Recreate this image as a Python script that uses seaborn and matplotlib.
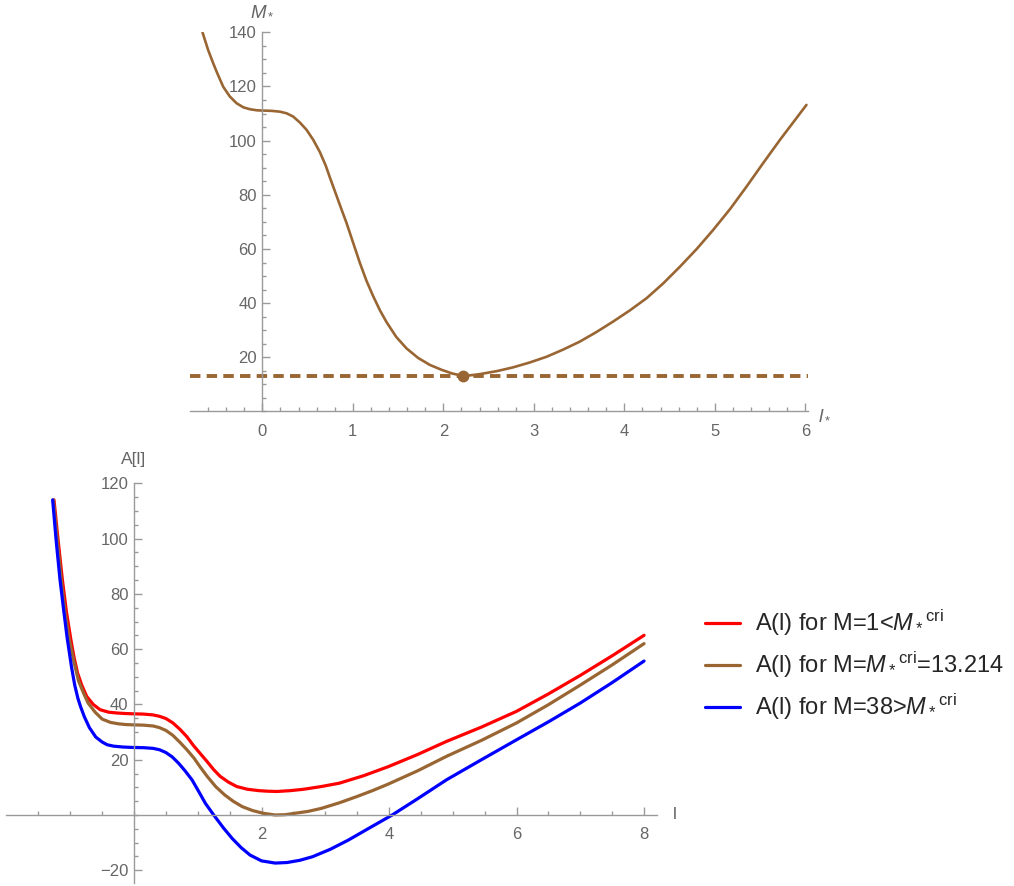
import numpy as np
import pandas as pd
import matplotlib
matplotlib.use("Agg")
import matplotlib.pyplot as plt
from matplotlib.ticker import FixedLocator, MultipleLocator
import seaborn as sns

# ---- critical mass curve M_*(l_*) ----
lstar = [-0.661, -0.60, -0.544, -0.50, -0.433, -0.36, -0.285, -0.21, -0.138,
         -0.06, 0.009, 0.10, 0.193, 0.267, 0.340, 0.414, 0.488, 0.562, 0.635,
         0.70, 0.746, 0.82, 0.88, 0.930, 1.00, 1.077, 1.15, 1.224, 1.30, 1.372,
         1.48, 1.593, 1.72, 1.851, 1.98, 2.10, 2.214, 2.31, 2.403, 2.59, 2.771,
         2.955, 3.140, 3.32, 3.508, 3.69, 3.876, 4.06, 4.245, 4.43, 4.613,
         4.80, 4.981, 5.17, 5.350, 5.53, 5.718, 5.87, 6.013]
mstar = [139.9, 133.5, 128.6, 125.0, 119.9, 116.3, 113.8, 112.3, 111.6,
         111.2, 111.1, 111.0, 110.7, 110.1, 108.9, 106.7, 104.0, 100.3, 95.8,
         90.8, 86.4, 79.6, 74.1, 69.6, 62.6, 54.9, 48.3, 42.6, 37.3, 33.0,
         27.5, 23.3, 19.8, 17.2, 15.4, 14.0, 13.214, 13.4, 13.8, 14.9, 16.3,
         18.1, 20.2, 22.8, 25.8, 29.3, 33.2, 37.3, 41.8, 47.3, 53.4,
         60.0, 67.0, 74.8, 83.0, 91.5, 100.2, 106.9, 113.2]
l_cri = 2.214
m_cri = 13.214

# ---- A(l) for three masses ----
l_red = [-1.255, -1.20, -1.124, -1.06, -0.99, -0.94, -0.886, -0.82, -0.742,
         -0.64, -0.533, -0.40, -0.271, -0.13, 0.0, 0.15, 0.30, 0.40, 0.50,
         0.61, 0.72, 0.83, 0.93, 1.04, 1.14, 1.25, 1.35, 1.48, 1.61, 1.78,
         1.96, 2.10, 2.24, 2.45, 2.66, 2.94, 3.22, 3.60, 3.99, 4.45, 4.90,
         5.45, 6.0, 6.5, 7.0, 7.5, 8.0]
a_red = [114.0, 101.5, 85.2, 73.5, 63.4, 57.0, 51.4, 47.0, 42.9,
         40.0, 38.1, 37.2, 36.9, 36.7, 36.6, 36.5, 36.2, 35.7, 34.9,
         33.3, 31.0, 28.3, 25.2, 22.2, 19.5, 16.4, 14.0, 11.9, 10.3, 9.3,
         8.8, 8.6, 8.5, 8.8, 9.3, 10.3, 11.5, 14.2, 17.5, 21.9, 26.6,
         31.8, 37.5, 43.8, 50.5, 57.6, 65.0]

l_brown = [-1.265, -1.21, -1.142, -1.08, -1.015, -0.94, -0.87, -0.79, -0.72,
           -0.61, -0.50, -0.37, -0.25, -0.12, 0.0, 0.15, 0.30, 0.40, 0.50,
           0.61, 0.72, 0.83, 0.94, 1.04, 1.15, 1.28, 1.42, 1.56, 1.70, 1.86,
           2.03, 2.214, 2.37, 2.52, 2.73, 2.94, 3.22, 3.50, 3.75, 3.99, 4.45,
           4.90, 5.45, 6.0, 6.5, 7.0, 7.5, 8.0]
a_brown = [114.0, 101.0, 85.2, 73.0, 63.4, 55.2, 48.5, 44.0, 40.5,
           37.2, 34.7, 33.5, 33.0, 32.7, 32.6, 32.5, 32.2, 31.6, 30.6,
           28.8, 26.3, 23.6, 20.6, 17.3, 13.9, 10.3, 7.3, 4.9, 3.0, 1.6,
           0.6, 0.0, 0.1, 0.6, 1.3, 2.4, 4.4, 6.7, 8.9, 11.2, 16.0,
           21.2, 27.0, 33.3, 39.9, 47.0, 54.3, 62.0]

l_blue = [-1.276, -1.22, -1.161, -1.10, -1.05, -0.98, -0.93, -0.88, -0.84,
          -0.78, -0.70, -0.60, -0.50, -0.42, -0.32, -0.18, 0.0, 0.15, 0.30,
          0.40, 0.50, 0.60, 0.70, 0.80, 0.91, 1.01, 1.12, 1.25, 1.40, 1.54,
          1.68, 1.82, 2.0, 2.214, 2.40, 2.60, 2.80, 3.08, 3.36, 3.70, 4.05,
          4.45, 4.90, 5.45, 6.0, 6.5, 7.0, 7.5, 8.0]
a_blue = [114.0, 99.0, 85.2, 73.5, 64.3, 53.5, 47.0, 42.2, 39.3,
          35.6, 31.6, 28.2, 26.4, 25.4, 24.9, 24.6, 24.4, 24.35, 24.1,
          23.6, 22.6, 21.0, 18.7, 16.0, 12.7, 8.7, 4.2, 0.0, -4.6, -8.5,
          -11.8, -14.5, -16.6, -17.4, -17.2, -16.4, -15.1, -12.4, -9.1, -4.6, 0.0,
          5.9, 12.7, 20.0, 27.2, 33.7, 40.5, 47.9, 55.7]

series_labels = [r"A(l) for M=1<${M_*}^{\rm cri}$",
                 r"A(l) for M=${M_*}^{\rm cri}$=13.214",
                 r"A(l) for M=38>${M_*}^{\rm cri}$"]

BROWN = "#996633"
AXIS_C = "#9a9a9a"
LABEL_C = "#666666"

sns.set_style("white")
plt.rcParams["font.family"] = ["Liberation Sans", "DejaVu Sans"]
plt.rcParams["mathtext.fontset"] = "custom"
plt.rcParams["mathtext.rm"] = "Liberation Sans"
plt.rcParams["mathtext.it"] = "Liberation Sans:italic"
plt.rcParams["mathtext.bf"] = "Liberation Sans:bold"
plt.rcParams["lines.scale_dashes"] = False

W, H = 1014, 886
fig = plt.figure(figsize=(W / 100, H / 100), dpi=100)


def frac_axes(x0, x1, y_top, y_bot):
    return fig.add_axes([x0 / W, 1 - y_bot / H, (x1 - x0) / W, (y_bot - y_top) / H])


def style_axes(ax):
    for s in ("top", "right"):
        ax.spines[s].set_visible(False)
    for s in ("left", "bottom"):
        ax.spines[s].set_color(AXIS_C)
        ax.spines[s].set_linewidth(1.0)
        ax.spines[s].set_position(("data", 0))
    ax.tick_params(which="both", direction="in", color=AXIS_C, width=1.0,
                   labelcolor=LABEL_C, labelsize=12,
                   bottom=True, left=True, top=False, right=False)
    ax.tick_params(which="major", length=6)
    ax.tick_params(which="minor", length=3.2)
    ax.tick_params(axis="x", which="both", pad=9)
    ax.tick_params(axis="y", which="both", pad=4)
    ax.set_facecolor("none")
    ax.grid(False)


# ---------------- top panel ----------------
ax1 = frac_axes(190, 808, 32.3, 411.5)
ax1.set_xlim(-0.80, 6.03)
ax1.set_ylim(0, 140)
style_axes(ax1)

top_df = pd.DataFrame({"l": lstar, "M": mstar})
sns.lineplot(data=top_df, x="l", y="M", ax=ax1, sort=False, estimator=None,
             color=BROWN, linewidth=1.9)
ax1.axhline(m_cri, color=BROWN, linewidth=2.8, linestyle=(0, (7.5, 4.5)))
ax1.plot([l_cri], [m_cri], "o", color=BROWN, markersize=7.5, zorder=5)

ax1.xaxis.set_major_locator(FixedLocator([0, 1, 2, 3, 4, 5, 6]))
ax1.xaxis.set_minor_locator(FixedLocator(np.round(np.arange(-0.6, 6.01, 0.2), 2)))
ax1.yaxis.set_major_locator(FixedLocator([20, 40, 60, 80, 100, 120, 140]))
ax1.yaxis.set_minor_locator(MultipleLocator(5))
ax1.set_xlabel("")
ax1.set_ylabel("")
ax1.annotate(r"$M_*$", xy=(0, 140), xytext=(0, 16), textcoords="offset points",
             ha="center", va="center", fontsize=13.5, color=LABEL_C,
             annotation_clip=False)
ax1.annotate(r"$l_*$", xy=(6.03, 0), xytext=(12, -2), textcoords="offset points",
             ha="center", va="center", fontsize=13.5, color=LABEL_C,
             annotation_clip=False)

# ---------------- bottom panel ----------------
ax2 = frac_axes(6.5, 656.8, 483.3, 882.7)
ax2.set_xlim(-2.0, 8.2)
ax2.set_ylim(-24.5, 120)
style_axes(ax2)

rows = []
for lab, ls, As in zip(series_labels, [l_red, l_brown, l_blue],
                       [a_red, a_brown, a_blue]):
    for l, a in zip(ls, As):
        rows.append({"l": l, "A": a, "case": lab})
bot_df = pd.DataFrame(rows)
sns.lineplot(data=bot_df, x="l", y="A", hue="case", ax=ax2, sort=False,
             estimator=None, palette=["#ff0000", BROWN, "#0000ff"],
             linewidth=2.3, legend=True)

ax2.xaxis.set_major_locator(FixedLocator([2, 4, 6, 8]))
ax2.xaxis.set_minor_locator(FixedLocator(np.arange(-1.5, 8.01, 0.5)))
ax2.yaxis.set_major_locator(FixedLocator([-20, 20, 40, 60, 80, 100, 120]))
ax2.yaxis.set_minor_locator(MultipleLocator(5))
ax2.set_yticklabels(["\u221220", "20", "40", "60", "80", "100", "120"])
ax2.set_xlabel("")
ax2.set_ylabel("")
ax2.annotate("A[l]", xy=(0, 120), xytext=(0, 17), textcoords="offset points",
             ha="center", va="center", fontsize=12.5, color=LABEL_C,
             annotation_clip=False)
ax2.annotate("l", xy=(8.2, 0), xytext=(13, 0), textcoords="offset points",
             ha="center", va="center", fontsize=12.5, color=LABEL_C,
             annotation_clip=False)

handles, labels = ax2.get_legend_handles_labels()
ax2.get_legend().remove()
fig.legend(handles, labels, loc="center left", bbox_to_anchor=(705 / W, 1 - 665 / H),
           frameon=False, fontsize=17, handlelength=1.48, handletextpad=0.62,
           labelspacing=0.5, borderaxespad=0, borderpad=0)

fig.savefig("out.png", dpi=100, facecolor="white")
